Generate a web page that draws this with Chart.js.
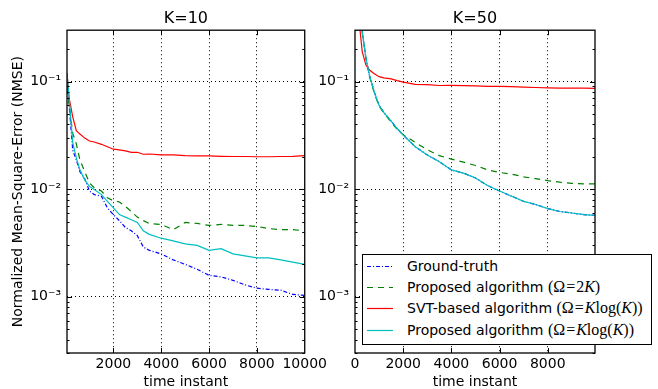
<!DOCTYPE html>
<html>
<head>
<meta charset="utf-8">
<script src="https://cdn.jsdelivr.net/npm/chart.js@4.4.1/dist/chart.umd.min.js"></script>
<style>
  html, body { margin: 0; padding: 0; background: #fff; }
  #wrap { position: relative; width: 658px; height: 389px; overflow: hidden; font-family: "DejaVu Sans", sans-serif; }
  canvas { position: absolute; top: 0; }
  #leftChart { left: 0; }
  #rightChart { left: 306px; }
  .legend { position: absolute; left: 362px; top: 254px; width: 288px; height: 89px; border: 1px solid #000; background: #fff; font-size: 14px; color: #000; }
  .row { position: absolute; left: 0; height: 20px; line-height: 20px; white-space: nowrap; }
  .row svg { position: absolute; left: 4px; top: 0; }
  .row .t { position: absolute; left: 44px; top: 0; }
  .m { font-family: "Liberation Serif", serif; font-size: 16px; }
  .m i { font-style: italic; }
</style>
</head>
<body>
<div id="wrap">
  <canvas id="leftChart" width="330" height="389"></canvas>
  <canvas id="rightChart" width="352" height="389"></canvas>
  <div class="legend">
    <div class="row" style="top:1px">
      <svg width="26" height="20"><line x1="0" y1="10.5" x2="26" y2="10.5" stroke="#0000ff" stroke-width="1.2" stroke-dasharray="4 2 1 2"/></svg>
      <span class="t">Ground-truth</span>
    </div>
    <div class="row" style="top:22px">
      <svg width="26" height="20"><line x1="0" y1="10.5" x2="26" y2="10.5" stroke="#008000" stroke-width="1.2" stroke-dasharray="6 5"/></svg>
      <span class="t">Proposed algorithm <span class="m">(Ω<span style="margin:0 1px">=</span>2<i>K</i>)</span></span>
    </div>
    <div class="row" style="top:43px">
      <svg width="26" height="20"><line x1="0" y1="10.5" x2="26" y2="10.5" stroke="#ff0000" stroke-width="1.2"/></svg>
      <span class="t">SVT-based algorithm <span class="m">(Ω<span style="margin:0 1px">=</span><i>K</i>log(<i>K</i>))</span></span>
    </div>
    <div class="row" style="top:65px">
      <svg width="26" height="20"><line x1="0" y1="10.5" x2="26" y2="10.5" stroke="#00bfbf" stroke-width="1.2"/></svg>
      <span class="t">Proposed algorithm <span class="m">(Ω<span style="margin:0 1px">=</span><i>K</i>log(<i>K</i>))</span></span>
    </div>
  </div>
</div>
<script>
// K=10 (left panel)
const leftTime = [60, 150, 300, 450, 600, 800, 1000, 1200, 1500, 1750, 2000, 2250, 2500, 2750, 3000, 3250, 3500, 4000, 4500, 5000, 5500, 6000, 6500, 7000, 7500, 8000, 8500, 9000, 9500, 10000];
const leftGroundTruth = [0.1, 0.06, 0.023, 0.0187, 0.0145, 0.0125, 0.0096, 0.0089, 0.0086, 0.0067, 0.0058, 0.0051, 0.0044, 0.0041, 0.0037, 0.0029, 0.0027, 0.0025, 0.0022, 0.002, 0.0018, 0.00158, 0.00153, 0.00142, 0.00129, 0.0012, 0.00117, 0.00115, 0.00105, 0.00103];
const leftProposed2K = [0.11, 0.06, 0.033, 0.0263, 0.0187, 0.0146, 0.0114, 0.0103, 0.0096, 0.0083, 0.0078, 0.0076, 0.0069, 0.0062, 0.0055, 0.0051, 0.0048, 0.0047, 0.0042, 0.0049, 0.0048, 0.0046, 0.0047, 0.0046, 0.0046, 0.0045, 0.0043, 0.0042, 0.0042, 0.0041];
const leftSVT = [0.12, 0.07, 0.047, 0.035, 0.0325, 0.0298, 0.028, 0.0274, 0.0261, 0.0248, 0.0235, 0.0232, 0.0227, 0.022, 0.022, 0.0211, 0.0212, 0.0208, 0.0208, 0.0205, 0.0204, 0.0204, 0.0202, 0.0201, 0.0201, 0.02, 0.02, 0.0201, 0.0202, 0.0205];
const leftProposedKlog = [0.12, 0.07, 0.027, 0.0195, 0.0151, 0.0122, 0.0106, 0.0099, 0.0089, 0.0077, 0.0067, 0.0058, 0.0055, 0.0052, 0.0049, 0.0041, 0.0038, 0.0035, 0.0033, 0.0031, 0.003, 0.0027, 0.0028, 0.0025, 0.0024, 0.0023, 0.0023, 0.0022, 0.0021, 0.002];

// K=50 (right panel)
const rightTime = [40, 150, 300, 450, 600, 800, 1000, 1200, 1500, 1750, 2000, 2500, 3000, 3500, 4000, 4500, 5000, 5500, 6000, 6500, 7000, 7500, 8000, 8500, 9000, 9500, 9960];
const rightProposedKlog = [3.0, 1.0, 0.29, 0.167, 0.114, 0.08, 0.06, 0.0515, 0.0428, 0.0366, 0.0318, 0.0248, 0.0208, 0.018, 0.0151, 0.0141, 0.0127, 0.0108, 0.0096, 0.0086, 0.0077, 0.0072, 0.0066, 0.0062, 0.006, 0.0058, 0.0057];
const rightGroundTruth = [3.0, 1.0, 0.29, 0.167, 0.114, 0.08, 0.06, 0.0515, 0.0428, 0.0366, 0.0318, 0.0248, 0.0208, 0.018, 0.0151, 0.0141, 0.0127, 0.0108, 0.0096, 0.0086, 0.0077, 0.0072, 0.0066, 0.0062, 0.006, 0.0058, 0.0057];
const rightProposed2K = [3.0, 1.0, 0.29, 0.167, 0.112, 0.078, 0.059, 0.051, 0.042, 0.036, 0.032, 0.0272, 0.0232, 0.0205, 0.019, 0.0178, 0.0166, 0.0151, 0.0143, 0.0138, 0.013, 0.0125, 0.012, 0.0116, 0.0113, 0.0112, 0.0112];
const rightSVT = [1.0, 0.4, 0.19, 0.143, 0.128, 0.118, 0.111, 0.108, 0.106, 0.102, 0.0986, 0.094, 0.0935, 0.0919, 0.092, 0.0915, 0.091, 0.09, 0.09, 0.0895, 0.0886, 0.088, 0.0875, 0.087, 0.087, 0.087, 0.0865];

const xTickValues = [0, 2000, 4000, 6000, 8000, 10000];
const yPowers = [1e-3, 1e-2, 1e-1];
const yPowerLabels = ['10⁻³', '10⁻²', '10⁻¹'];
const yMin = 3.16e-4;
const yMax = 0.3;

Chart.defaults.font.family = '"DejaVu Sans", sans-serif';
Chart.defaults.color = '#000';

function isPower(v) {
    return yPowers.some(p => Math.abs(Math.log10(v) - Math.log10(p)) < 1e-6);
}

// ticks pointing inwards on all four sides plus the frame
const frameTicks = {
    id: 'frameTicks',
    afterDraw(chart) {
        const { ctx, chartArea: a, scales: { x, y } } = chart;
        ctx.save();
        ctx.strokeStyle = '#000';
        ctx.lineWidth = 1;
        for (let e = -4; e <= 0; e++) {
            for (let m = 1; m <= 9; m++) {
                const v = m * Math.pow(10, e);
                if (v <= y.min || v >= y.max) continue;
                const py = Math.round(y.getPixelForValue(v)) + 0.5;
                const len = m === 1 ? 5 : 2.5;
                ctx.beginPath();
                ctx.moveTo(a.left, py); ctx.lineTo(a.left + len, py);
                ctx.moveTo(a.right, py); ctx.lineTo(a.right - len, py);
                ctx.stroke();
            }
        }
        x.ticks.forEach(t => {
            if (t.value <= x.min || t.value >= x.max) return;
            const px = Math.round(x.getPixelForValue(t.value)) + 0.5;
            ctx.beginPath();
            ctx.moveTo(px, a.bottom); ctx.lineTo(px, a.bottom - 5);
            ctx.moveTo(px, a.top); ctx.lineTo(px, a.top + 5);
            ctx.stroke();
        });
        ctx.lineWidth = 1.3;
        ctx.strokeRect(a.left, a.top, a.right - a.left, a.bottom - a.top);
        ctx.restore();
    }
};

function series(time, values, label, color, dash, order) {
    return {
        label: label,
        data: time.map((t, i) => ({ x: t, y: values[i] })),
        borderColor: color,
        borderWidth: 1.2,
        borderDash: dash,
        pointRadius: 0,
        tension: 0,
        fill: false,
        order: order
    };
}

function makeChart(id, cfg) {
    return new Chart(document.getElementById(id), {
        type: 'line',
        data: {
            datasets: [
                series(cfg.time, cfg.truth, 'Ground-truth', '#0000ff', [4, 2, 1, 2], 4),
                series(cfg.time, cfg.prop2k, 'Proposed algorithm (Ω=2K)', '#008000', [6, 5], 3),
                series(cfg.time, cfg.svt, 'SVT-based algorithm (Ω=Klog(K))', '#ff0000', [], 2),
                series(cfg.time, cfg.propKlog, 'Proposed algorithm (Ω=Klog(K))', '#00bfbf', [], 1)
            ]
        },
        options: {
            responsive: false,
            animation: false,
            layout: { padding: cfg.padding },
            plugins: {
                legend: { display: false },
                tooltip: { enabled: false },
                title: {
                    display: true,
                    text: cfg.title,
                    fullSize: false,
                    color: '#000',
                    font: { size: 16, weight: 'normal' },
                    padding: { top: 9, bottom: 2 }
                }
            },
            scales: {
                x: {
                    type: 'linear',
                    min: cfg.xMin,
                    max: cfg.xMax,
                    afterFit: s => { s.height = 36; },
                    afterBuildTicks: s => {
                        s.ticks = xTickValues.filter(v => v >= s.min && v <= s.max).map(v => ({ value: v }));
                    },
                    grid: {
                        drawTicks: false,
                        lineWidth: 1,
                        color: c => (c.tick && c.tick.value > cfg.xMin && c.tick.value < cfg.xMax) ? '#000' : 'rgba(0,0,0,0)'
                    },
                    border: { display: false, dash: [1, 3] },
                    ticks: {
                        autoSkip: false,
                        maxRotation: 0,
                        padding: 3,
                        font: { size: 14 },
                        callback: v => String(v)
                    },
                    title: {
                        display: true,
                        text: 'time instant',
                        font: { size: 14 },
                        padding: { top: 0, bottom: -2 }
                    }
                },
                y: {
                    type: 'logarithmic',
                    min: yMin,
                    max: yMax,
                    afterFit: s => { s.width = cfg.yWidth; },
                    grid: {
                        drawTicks: false,
                        lineWidth: 1,
                        color: c => (c.tick && isPower(c.tick.value)) ? '#000' : 'rgba(0,0,0,0)'
                    },
                    border: { display: false, dash: [1, 3] },
                    ticks: {
                        autoSkip: false,
                        padding: 6,
                        font: { size: 14 },
                        callback: v => {
                            const i = yPowers.findIndex(p => Math.abs(Math.log10(v) - Math.log10(p)) < 1e-6);
                            return i >= 0 ? yPowerLabels[i] : '';
                        }
                    },
                    title: {
                        display: cfg.yTitle,
                        text: 'Normalized Mean-Square-Error (NMSE)',
                        font: { size: 14 },
                        padding: { top: 10, bottom: 0 }
                    }
                }
            }
        },
        plugins: [frameTicks]
    });
}

makeChart('leftChart', {
    title: 'K=10',
    time: leftTime,
    truth: leftGroundTruth,
    prop2k: leftProposed2K,
    svt: leftSVT,
    propKlog: leftProposedKlog,
    xMin: 60,
    xMax: 10000,
    yWidth: 67,
    yTitle: true,
    padding: { left: 0, right: 24, top: 0, bottom: 0 }
});

makeChart('rightChart', {
    title: 'K=50',
    time: rightTime,
    truth: rightGroundTruth,
    prop2k: rightProposed2K,
    svt: rightSVT,
    propKlog: rightProposedKlog,
    xMin: 0,
    xMax: 9960,
    yWidth: 49,
    yTitle: false,
    padding: { left: 0, right: 63, top: 0, bottom: 0 }
});
</script>
</body>
</html>
